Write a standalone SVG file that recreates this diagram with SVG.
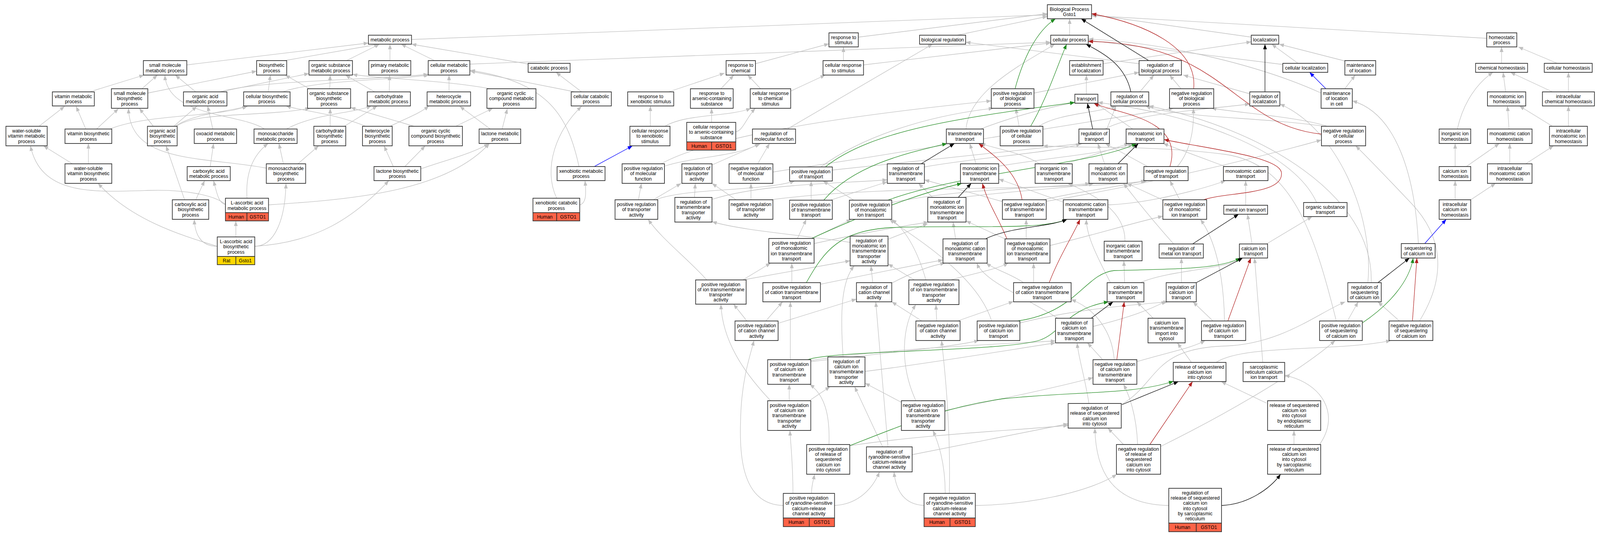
<svg xmlns="http://www.w3.org/2000/svg" width="4308" height="1371" viewBox="0 0 4308 1371">
<style>
.node rect.b{fill:#fff;stroke:#333;stroke-width:1.8}
.node rect.h{fill:#ff6347;stroke:#333;stroke-width:1.8}
.node rect.r{fill:#ffd700;stroke:#333;stroke-width:1.8}
text{font-family:"Liberation Sans",Arial,sans-serif;font-size:13px;text-anchor:middle;fill:#000}
.e path{fill:none;stroke-width:1.3}
.g path{stroke:#c0c0c0;marker-end:url(#ag)}
.p path{stroke:#228b22;marker-end:url(#ap)}
.n path{stroke:#b22222;marker-end:url(#an)}
.k path{stroke:#000;marker-end:url(#ak)}
.bl path{stroke:#0000ff;marker-end:url(#ab)}
</style>
<defs>
<marker id="ag" viewBox="0 0 13 10" refX="13" refY="5" markerWidth="13" markerHeight="10" markerUnits="userSpaceOnUse" orient="auto"><path d="M0,0L13,5L0,10z" fill="#c0c0c0"/></marker>
<marker id="ap" viewBox="0 0 13 10" refX="13" refY="5" markerWidth="13" markerHeight="10" markerUnits="userSpaceOnUse" orient="auto"><path d="M0,0L13,5L0,10z" fill="#228b22"/></marker>
<marker id="an" viewBox="0 0 13 10" refX="13" refY="5" markerWidth="13" markerHeight="10" markerUnits="userSpaceOnUse" orient="auto"><path d="M0,0L13,5L0,10z" fill="#b22222"/></marker>
<marker id="ak" viewBox="0 0 13 10" refX="13" refY="5" markerWidth="13" markerHeight="10" markerUnits="userSpaceOnUse" orient="auto"><path d="M0,0L13,5L0,10z" fill="#000"/></marker>
<marker id="ab" viewBox="0 0 13 10" refX="13" refY="5" markerWidth="13" markerHeight="10" markerUnits="userSpaceOnUse" orient="auto"><path d="M0,0L13,5L0,10z" fill="#0000ff"/></marker>
</defs>
<rect x="0" y="0" width="4308" height="1371" fill="#fff"/>
<g id="diagram" transform="scale(0.950789,1)">
<g id="connectors" class="e">
<g class="g">
<path d="M1108,101 L2820,38"/>
<path d="M503,166 L992,110"/>
<path d="M766,155 L1020,113"/>
<path d="M933,155 L1022,113"/>
<path d="M1050,155 L1050,113"/>
<path d="M1170,155 L1080,113"/>
<path d="M1424,164 L1108,113"/>
<path d="M1265,164 L2829,108"/>
<path d="M241,235 L388,192"/>
<path d="M382,227 L424,192"/>
<path d="M398,238 L691,182"/>
<path d="M527,235 L472,192"/>
<path d="M592,235 L832,188"/>
<path d="M592,235 C700,205 1000,205 1153,190"/>
<path d="M722,235 L728,192"/>
<path d="M761,235 C850,205 1050,205 1155,192"/>
<path d="M837,229 L768,192"/>
<path d="M888,227 L889,192"/>
<path d="M1009,235 L930,192"/>
<path d="M1048,235 L1049,192"/>
<path d="M1209,235 L1209,192"/>
<path d="M1320,227 C1200,205 1000,200 949,190"/>
<path d="M1227,323 L1327,277"/>
<path d="M1115,323 L944,275"/>
<path d="M1320,330 L1238,272"/>
<path d="M1352,330 L1366,278"/>
<path d="M1566,235 L1497,185"/>
<path d="M1548,235 L1266,182"/>
<path d="M1559,426 C1530,300 1480,210 1266,180"/>
<path d="M1499,507 C1460,430 1500,330 1566,272"/>
<path d="M1561,524 C1580,520 1578,490 1575,462"/>
<path d="M231,330 L205,272"/>
<path d="M260,330 L319,278"/>
<path d="M105,323 L174,272"/>
<path d="M468,323 L530,272"/>
<path d="M413,323 L375,277"/>
<path d="M472,323 C520,290 620,285 668,271"/>
<path d="M475,323 C530,285 700,300 835,277"/>
<path d="M296,330 C400,290 600,300 665,271"/>
<path d="M712,330 C650,290 450,300 444,192"/>
<path d="M771,330 C850,290 950,290 1000,271"/>
<path d="M927,323 L1016,271"/>
<path d="M889,323 L889,277"/>
<path d="M1050,323 C1100,300 1130,290 1155,271"/>
<path d="M985,323 C900,290 820,285 770,271"/>
<path d="M195,419 L117,373"/>
<path d="M238,419 L238,367"/>
<path d="M566,426 L575,367"/>
<path d="M763,419 L751,367"/>
<path d="M802,419 L858,373"/>
<path d="M717,430 C550,400 350,420 346,277"/>
<path d="M573,330 L559,271"/>
<path d="M1059,426 L1034,373"/>
<path d="M1133,432 C1200,410 1280,390 1316,367"/>
<path d="M1090,426 L1145,373"/>
<path d="M527,511 L551,462"/>
<path d="M497,511 L447,373"/>
<path d="M607,523 C590,520 585,500 575,462"/>
<path d="M665,507 C660,430 690,390 722,367"/>
<path d="M607,523 C580,500 500,484 400,487 C250,492 110,500 82,373"/>
<path d="M723,524 C950,510 1200,490 1318,367"/>
<path d="M635,606 L635,565"/>
<path d="M585,630 C540,630 525,600 523,561"/>
<path d="M585,630 C480,600 350,560 264,469"/>
<path d="M686,630 C740,630 768,560 770,469"/>
<path d="M686,630 C850,620 950,560 1047,462"/>
<path d="M2034,163 L2232,112"/>
<path d="M1800,235 L1951,187"/>
<path d="M1941,227 L1976,192"/>
<path d="M2048,227 L2013,192"/>
<path d="M2129,233 L2222,192"/>
<path d="M1751,323 L1751,271"/>
<path d="M1790,323 C1850,290 1960,300 2022,277"/>
<path d="M1916,313 L1916,277"/>
<path d="M1981,337 C2000,335 2010,300 2034,277"/>
<path d="M2271,155 L2271,120"/>
<path d="M2325,166 L2829,110"/>
<path d="M2311,95 L2820,35"/>
<path d="M2577,90 L2820,42"/>
<path d="M2880,90 L2880,48"/>
<path d="M3369,95 L2939,37"/>
<path d="M4003,98 L2939,40"/>
<path d="M3067,163 L2600,108"/>
<path d="M2970,163 L3369,107"/>
<path d="M2925,241 L2925,192"/>
<path d="M3069,235 L3107,192"/>
<path d="M2784,238 L3067,185"/>
<path d="M3180,227 L3149,192"/>
<path d="M2744,323 L2735,277"/>
<path d="M2797,323 C2850,290 2950,290 3005,271"/>
<path d="M3574,323 C3500,300 3350,290 3262,277"/>
<path d="M3565,323 C3400,300 3150,300 3085,271"/>
<path d="M3365,240 L3186,192"/>
<path d="M3495,162 L3424,113"/>
<path d="M3454,165 L2930,103"/>
<path d="M3621,156 L3444,113"/>
<path d="M3621,227 L3649,192"/>
<path d="M3557,238 C3400,170 3150,110 2931,100"/>
<path d="M4043,162 L4043,120"/>
<path d="M4193,162 L4088,120"/>
<path d="M4054,235 L4047,185"/>
<path d="M4180,235 L4067,185"/>
<path d="M4223,235 L4223,185"/>
<path d="M3924,330 C3940,260 3980,210 4020,185"/>
<path d="M4063,330 L4059,271"/>
<path d="M4180,323 L4091,271"/>
<path d="M4223,323 L4223,271"/>
<path d="M3918,426 L3918,367"/>
<path d="M3948,426 L4037,367"/>
<path d="M4065,419 L4065,367"/>
<path d="M4108,419 L4183,373"/>
<path d="M3918,511 L3918,462"/>
<path d="M3960,511 L4027,469"/>
<path d="M3819,623 C3810,450 3760,290 3641,258"/>
<path d="M2120,330 L2511,113"/>
<path d="M1789,425 C1870,400 1990,400 2045,367"/>
<path d="M1780,419 C1950,330 2450,280 2669,258"/>
<path d="M1917,422 L2048,367"/>
<path d="M2040,419 L2072,367"/>
<path d="M2081,440 C2500,380 3000,300 3160,277"/>
<path d="M1719,511 L1727,469"/>
<path d="M1759,511 L1834,469"/>
<path d="M1765,511 C1850,480 2050,490 2140,463"/>
<path d="M1870,505 L1872,469"/>
<path d="M1917,510 C2050,470 2250,470 2389,460"/>
<path d="M1982,511 L1917,469"/>
<path d="M2022,511 L2022,469"/>
<path d="M2075,511 C2400,470 2900,490 3090,462"/>
<path d="M2241,435 L2915,367"/>
<path d="M2210,427 C2350,330 2550,290 2675,277"/>
<path d="M2489,427 C2650,400 2850,390 2910,367"/>
<path d="M2236,512 L2389,465"/>
<path d="M2184,512 L2184,463"/>
<path d="M2401,518 C2600,480 2850,480 2935,469"/>
<path d="M2299,512 L2216,463"/>
<path d="M2511,505 L2473,469"/>
<path d="M2590,505 C2700,490 2900,480 2945,469"/>
<path d="M2628,419 L2611,367"/>
<path d="M2689,425 C2850,400 3000,390 3050,367"/>
<path d="M2800,419 C2750,390 2680,380 2640,367"/>
<path d="M2870,419 L3040,367"/>
<path d="M2975,330 C3050,290 3250,280 3365,266"/>
<path d="M2980,330 L3005,271"/>
<path d="M3050,330 L2950,264"/>
<path d="M3302,427 L3132,367"/>
<path d="M3354,525 L3354,462"/>
<path d="M3371,624 L3359,548"/>
<path d="M3410,624 L3533,554"/>
<path d="M3545,518 C3480,380 3200,290 2956,262"/>
<path d="M2863,517 L2689,458"/>
<path d="M2983,524 C3100,520 3250,480 3300,462"/>
<path d="M2573,611 L2566,568"/>
<path d="M2708,612 L2601,565"/>
<path d="M2763,611 L2763,561"/>
<path d="M2827,628 C2950,600 3050,570 3131,553"/>
<path d="M2704,517 L2489,460"/>
<path d="M2810,511 C2900,490 3000,480 3085,462"/>
<path d="M2817,515 C3100,470 3400,400 3558,358"/>
<path d="M2974,419 L2956,367"/>
<path d="M3092,427 L2976,367"/>
<path d="M3170,426 C3210,380 3215,320 3213,277"/>
<path d="M3132,512 L3034,469"/>
<path d="M3177,512 L3150,462"/>
<path d="M3160,624 C3100,560 3050,500 3025,469"/>
<path d="M3029,617 C3030,540 2950,500 2875,469"/>
<path d="M3028,723 L3026,667"/>
<path d="M3070,723 C3150,690 3300,690 3345,660"/>
<path d="M2990,723 C2950,650 2925,600 2925,561"/>
<path d="M3105,814 L3061,772"/>
<path d="M3181,723 L3181,660"/>
<path d="M3400,927 L3378,660"/>
<path d="M3208,927 L3170,877"/>
<path d="M3274,927 C3350,880 3600,900 3745,871"/>
<path d="M3410,1031 L3288,976"/>
<path d="M3484,1137 L3484,1101"/>
<path d="M3553,1137 C3610,1060 3560,980 3459,960"/>
<path d="M3147,1293 C2990,1290 2950,1200 2948,1095"/>
<path d="M2932,1032 C2920,960 2905,920 2900,877"/>
<path d="M3019,1035 C3120,980 3100,890 3300,885 C3450,880 3550,800 3622,772"/>
<path d="M2288,1140 C2500,1110 2750,1100 2876,1088"/>
<path d="M2232,1137 C2235,1060 2220,1010 2180,983"/>
<path d="M2377,1144 L2301,989"/>
<path d="M2391,1144 L2358,772"/>
<path d="M2456,1163 L2876,1084"/>
<path d="M3025,1137 L2983,1095"/>
<path d="M3063,1137 C3060,1060 3040,1010 3025,983"/>
<path d="M3125,1142 C3300,1060 3500,950 3595,871"/>
<path d="M2185,1262 C2185,1240 2190,1230 2193,1213"/>
<path d="M2135,1262 C2135,1180 2128,1130 2127,1101"/>
<path d="M2247,1293 C2310,1290 2350,1250 2368,1207"/>
<path d="M2109,1293 C1990,1290 1990,1150 1995,1050 C2000,960 2020,910 2030,871"/>
<path d="M2488,1293 C2430,1290 2412,1250 2407,1207"/>
<path d="M2626,1293 C2800,1290 2950,1250 3007,1213"/>
<path d="M2556,1262 C2560,1100 2545,950 2535,871"/>
<path d="M2545,1262 C2545,1180 2525,1130 2512,1101"/>
<path d="M2125,1025 L2125,983"/>
<path d="M2179,1025 L2235,989"/>
<path d="M2075,1025 C2000,950 1945,870 1941,778"/>
<path d="M2427,1029 L2329,980"/>
<path d="M2544,1050 C2700,1020 2850,990 2943,966"/>
<path d="M2466,1025 C2420,930 2430,830 2466,779"/>
<path d="M2183,922 C2400,890 2700,880 2842,872"/>
<path d="M2128,920 L2128,772"/>
<path d="M2183,925 C2400,900 2550,890 2636,871"/>
<path d="M2329,950 C2500,930 2750,890 2842,877"/>
<path d="M2270,913 C2262,800 2265,720 2300,680"/>
<path d="M2969,920 L2928,877"/>
<path d="M3000,920 C2995,850 2950,790 2884,766"/>
<path d="M3061,925 C3150,900 3210,890 3245,871"/>
<path d="M2943,835 C3050,810 3100,790 3140,770"/>
<path d="M2848,814 C2760,760 2650,720 2630,673"/>
<path d="M3266,821 L3212,772"/>
<path d="M3297,821 C3295,700 3270,610 3232,561"/>
<path d="M2746,826 C2900,790 3050,780 3145,772"/>
<path d="M2670,821 C2630,700 2450,600 2395,561"/>
<path d="M2209,727 C2350,700 2450,680 2539,665"/>
<path d="M2132,723 L2132,673"/>
<path d="M2000,716 L2289,667"/>
<path d="M2000,716 L2075,673"/>
<path d="M1903,716 C1850,660 1780,610 1745,561"/>
<path d="M2350,723 L2345,680"/>
<path d="M2399,725 C2450,700 2500,680 2545,673"/>
<path d="M2462,716 L2391,675"/>
<path d="M2560,716 C2620,700 2680,690 2715,673"/>
<path d="M2493,716 C2470,640 2440,590 2401,561"/>
<path d="M2095,827 L2306,765"/>
<path d="M2011,821 L1975,778"/>
<path d="M2062,821 L2107,772"/>
<path d="M2482,821 L2401,772"/>
<path d="M2522,821 L2520,779"/>
<path d="M2578,821 L2729,771"/>
<path d="M2756,723 C2720,700 2680,690 2655,673"/>
<path d="M2783,723 L2783,673"/>
<path d="M2289,620 C2150,600 2000,590 1917,567"/>
<path d="M2391,612 L2498,572"/>
<path d="M2192,623 C2300,600 2420,580 2500,568"/>
<path d="M2147,610 L2171,561"/>
<path d="M2180,613 L2292,561"/>
<path d="M3683,723 C3700,550 3600,330 3446,266"/>
<path d="M3692,723 C3700,500 3400,330 3093,271"/>
<path d="M3628,821 L3657,772"/>
<path d="M3598,821 C3540,600 3480,420 3300,395 C3100,370 2900,380 2808,373"/>
<path d="M3768,821 L3710,772"/>
<path d="M3822,821 C3900,700 3880,600 3800,520 C3720,440 3680,400 3650,373"/>
<path d="M2640,330 C2750,290 2850,270 2894,262"/>
<path d="M2601,330 C2610,230 2760,160 2840,113"/>
</g>
<g class="p">
<path d="M2733,227 C2755,150 2790,80 2842,48"/>
<path d="M2775,323 C2820,250 2850,160 2872,113"/>
<path d="M2222,427 C2350,330 2600,300 2894,262"/>
<path d="M2218,512 C2300,420 2450,390 2550,367"/>
<path d="M2390,512 C2600,440 2950,420 3060,367"/>
<path d="M2185,610 C2300,560 2450,500 2590,469"/>
<path d="M2171,723 C2220,640 2260,590 2400,582 C2600,575 2800,590 2873,561"/>
<path d="M2174,920 C2250,895 2700,900 2800,870 C2860,850 2870,790 2985,772"/>
<path d="M2739,821 C2900,800 2920,700 3000,692 C3150,688 3280,690 3340,660"/>
<path d="M2288,1140 C2450,1080 2550,1040 2700,1020 C2900,1000 3050,1010 3160,975"/>
<path d="M3668,826 C3740,780 3795,720 3805,660"/>
</g>
<g class="n">
<path d="M3214,227 C3225,120 3080,60 2939,35"/>
<path d="M3558,343 C3320,320 3300,110 2930,106"/>
<path d="M3150,426 C3190,300 3000,290 2945,264"/>
<path d="M2752,511 C2740,440 2680,400 2635,367"/>
<path d="M3237,512 C3300,490 3460,500 3450,440 C3440,400 3250,380 3134,357"/>
<path d="M2711,611 C2690,560 2660,520 2645,469"/>
<path d="M2825,723 C2850,660 2890,600 2908,561"/>
<path d="M3007,920 L3027,772"/>
<path d="M3306,821 L3368,660"/>
<path d="M3096,1137 L3211,976"/>
<path d="M3803,821 L3815,660"/>
</g>
<g class="k">
<path d="M3093,155 L2911,48"/>
<path d="M3045,235 C3030,170 2980,140 2924,113"/>
<path d="M3406,235 L3406,113"/>
<path d="M2942,330 L2928,264"/>
<path d="M2480,419 L2570,367"/>
<path d="M3009,420 L3065,367"/>
<path d="M2580,505 L2615,469"/>
<path d="M2653,611 C2720,580 2830,580 2873,561"/>
<path d="M3211,624 L3335,548"/>
<path d="M3221,723 L3346,660"/>
<path d="M2938,814 L2997,772"/>
<path d="M3021,1035 L3173,976"/>
<path d="M3289,1293 C3360,1290 3420,1250 3448,1213"/>
<path d="M3710,723 L3795,660"/>
</g>
<g class="bl">
<path d="M1600,426 L1703,373"/>
<path d="M3570,227 L3526,185"/>
<path d="M3836,623 L3894,561"/>
</g>
</g>
<g id="nodes">
<g id="bp" class="node"><rect class="b" x="2820" y="12" width="119" height="36"/><text x="2879.5" y="27.85"><tspan x="2879.5">Biological Process</tspan><tspan x="2879.5" dy="13.3">Gsto1</tspan></text></g>
<g id="mp" class="node"><rect class="b" x="992" y="90" width="116" height="23"/><text x="1050" y="106">metabolic process</text></g>
<g id="rts" class="node"><rect class="b" x="2232" y="84" width="79" height="36"/><text x="2271.5" y="99.85"><tspan x="2271.5">response to</tspan><tspan x="2271.5" dy="13.3">stimulus</tspan></text></g>
<g id="breg" class="node"><rect class="b" x="2476" y="90" width="124" height="23"/><text x="2538" y="106">biological regulation</text></g>
<g id="cp" class="node"><rect class="b" x="2829" y="90" width="101" height="23"/><text x="2879.5" y="106">cellular process</text></g>
<g id="loc" class="node"><rect class="b" x="3369" y="90" width="74" height="23"/><text x="3406" y="106">localization</text></g>
<g id="hp" class="node"><rect class="b" x="4003" y="84" width="81" height="36"/><text x="4043.5" y="99.85"><tspan x="4043.5">homeostatic</tspan><tspan x="4043.5" dy="13.3">process</tspan></text></g>
<g id="smmp" class="node"><rect class="b" x="386" y="155" width="117" height="37"/><text x="444.5" y="171.35"><tspan x="444.5">small molecule</tspan><tspan x="444.5" dy="13.3">metabolic process</tspan></text></g>
<g id="bsp" class="node"><rect class="b" x="691" y="155" width="81" height="37"/><text x="731.5" y="171.35"><tspan x="731.5">biosynthetic</tspan><tspan x="731.5" dy="13.3">process</tspan></text></g>
<g id="osmp" class="node"><rect class="b" x="832" y="155" width="117" height="37"/><text x="890.5" y="171.35"><tspan x="890.5">organic substance</tspan><tspan x="890.5" dy="13.3">metabolic process</tspan></text></g>
<g id="pmp" class="node"><rect class="b" x="993" y="155" width="113" height="37"/><text x="1049.5" y="171.35"><tspan x="1049.5">primary metabolic</tspan><tspan x="1049.5" dy="13.3">process</tspan></text></g>
<g id="cmp" class="node"><rect class="b" x="1153" y="155" width="112" height="37"/><text x="1209" y="171.35"><tspan x="1209">cellular metabolic</tspan><tspan x="1209" dy="13.3">process</tspan></text></g>
<g id="catp" class="node"><rect class="b" x="1422" y="162" width="113" height="23"/><text x="1478.5" y="178">catabolic process</text></g>
<g id="rtc" class="node"><rect class="b" x="1955" y="155" width="79" height="37"/><text x="1994.5" y="171.35"><tspan x="1994.5">response to</tspan><tspan x="1994.5" dy="13.3">chemical</tspan></text></g>
<g id="crs" class="node"><rect class="b" x="2216" y="155" width="109" height="37"/><text x="2270.5" y="171.35"><tspan x="2270.5">cellular response</tspan><tspan x="2270.5" dy="13.3">to stimulus</tspan></text></g>
<g id="eol" class="node"><rect class="b" x="2880" y="155" width="90" height="37"/><text x="2925" y="171.35"><tspan x="2925">establishment</tspan><tspan x="2925" dy="13.3">of localization</tspan></text></g>
<g id="rbp" class="node"><rect class="b" x="3067" y="155" width="114" height="37"/><text x="3124" y="171.35"><tspan x="3124">regulation of</tspan><tspan x="3124" dy="13.3">biological process</tspan></text></g>
<g id="cloc" class="node"><rect class="b" x="3454" y="162" width="121" height="23"/><text x="3514.5" y="178">cellular localization</text></g>
<g id="mol" class="node"><rect class="b" x="3621" y="155" width="83" height="37"/><text x="3662.5" y="171.35"><tspan x="3662.5">maintenance</tspan><tspan x="3662.5" dy="13.3">of location</tspan></text></g>
<g id="chh" class="node"><rect class="b" x="3973" y="162" width="140" height="23"/><text x="4043" y="178">chemical homeostasis</text></g>
<g id="celh" class="node"><rect class="b" x="4158" y="162" width="129" height="23"/><text x="4222.5" y="178">cellular homeostasis</text></g>
<g id="vmp" class="node"><rect class="b" x="141" y="235" width="113" height="36"/><text x="197.5" y="250.85"><tspan x="197.5">vitamin metabolic</tspan><tspan x="197.5" dy="13.3">process</tspan></text></g>
<g id="smbp" class="node"><rect class="b" x="300" y="227" width="98" height="50"/><text x="349" y="243.2"><tspan x="349">small molecule</tspan><tspan x="349" dy="13.3">biosynthetic</tspan><tspan x="349" dy="13.3">process</tspan></text></g>
<g id="oamp" class="node"><rect class="b" x="494" y="235" width="117" height="36"/><text x="552.5" y="250.85"><tspan x="552.5">organic acid</tspan><tspan x="552.5" dy="13.3">metabolic process</tspan></text></g>
<g id="cbp" class="node"><rect class="b" x="656" y="235" width="125" height="36"/><text x="718.5" y="250.85"><tspan x="718.5">cellular biosynthetic</tspan><tspan x="718.5" dy="13.3">process</tspan></text></g>
<g id="osbp" class="node"><rect class="b" x="828" y="227" width="116" height="50"/><text x="886" y="243.2"><tspan x="886">organic substance</tspan><tspan x="886" dy="13.3">biosynthetic</tspan><tspan x="886" dy="13.3">process</tspan></text></g>
<g id="chmp" class="node"><rect class="b" x="989" y="235" width="116" height="36"/><text x="1047" y="250.85"><tspan x="1047">carbohydrate</tspan><tspan x="1047" dy="13.3">metabolic process</tspan></text></g>
<g id="hmp" class="node"><rect class="b" x="1150" y="235" width="117" height="36"/><text x="1208.5" y="250.85"><tspan x="1208.5">heterocycle</tspan><tspan x="1208.5" dy="13.3">metabolic process</tspan></text></g>
<g id="ocmp" class="node"><rect class="b" x="1311" y="227" width="132" height="50"/><text x="1377" y="243.2"><tspan x="1377">organic cyclic</tspan><tspan x="1377" dy="13.3">compound metabolic</tspan><tspan x="1377" dy="13.3">process</tspan></text></g>
<g id="ccp" class="node"><rect class="b" x="1538" y="235" width="108" height="36"/><text x="1592" y="250.85"><tspan x="1592">cellular catabolic</tspan><tspan x="1592" dy="13.3">process</tspan></text></g>
<g id="rxs" class="node"><rect class="b" x="1690" y="235" width="124" height="36"/><text x="1752" y="250.85"><tspan x="1752">response to</tspan><tspan x="1752" dy="13.3">xenobiotic stimulus</tspan></text></g>
<g id="ras" class="node"><rect class="b" x="1859" y="227" width="115" height="50"/><text x="1916.5" y="243.2"><tspan x="1916.5">response to</tspan><tspan x="1916.5" dy="13.3">arsenic-containing</tspan><tspan x="1916.5" dy="13.3">substance</tspan></text></g>
<g id="crcs" class="node"><rect class="b" x="2020" y="227" width="109" height="50"/><text x="2074.5" y="243.2"><tspan x="2074.5">cellular response</tspan><tspan x="2074.5" dy="13.3">to chemical</tspan><tspan x="2074.5" dy="13.3">stimulus</tspan></text></g>
<g id="pbp" class="node"><rect class="b" x="2669" y="227" width="115" height="50"/><text x="2726.5" y="243.2"><tspan x="2726.5">positive regulation</tspan><tspan x="2726.5" dy="13.3">of biological</tspan><tspan x="2726.5" dy="13.3">process</tspan></text></g>
<g id="tr" class="node"><rect class="b" x="2894" y="241" width="62" height="23"/><text x="2925" y="257">transport</text></g>
<g id="rcp" class="node"><rect class="b" x="2991" y="235" width="102" height="36"/><text x="3042" y="250.85"><tspan x="3042">regulation of</tspan><tspan x="3042" dy="13.3">cellular process</tspan></text></g>
<g id="nbp" class="node"><rect class="b" x="3149" y="227" width="119" height="50"/><text x="3208.5" y="243.2"><tspan x="3208.5">negative regulation</tspan><tspan x="3208.5" dy="13.3">of biological</tspan><tspan x="3208.5" dy="13.3">process</tspan></text></g>
<g id="rloc" class="node"><rect class="b" x="3365" y="235" width="81" height="36"/><text x="3405.5" y="250.85"><tspan x="3405.5">regulation of</tspan><tspan x="3405.5" dy="13.3">localization</tspan></text></g>
<g id="molc" class="node"><rect class="b" x="3557" y="227" width="84" height="50"/><text x="3599" y="243.2"><tspan x="3599">maintenance</tspan><tspan x="3599" dy="13.3">of location</tspan><tspan x="3599" dy="13.3">in cell</tspan></text></g>
<g id="mih" class="node"><rect class="b" x="4005" y="235" width="103" height="36"/><text x="4056.5" y="250.85"><tspan x="4056.5">monoatomic ion</tspan><tspan x="4056.5" dy="13.3">homeostasis</tspan></text></g>
<g id="ich" class="node"><rect class="b" x="4153" y="235" width="140" height="36"/><text x="4223" y="250.85"><tspan x="4223">intracellular</tspan><tspan x="4223" dy="13.3">chemical homeostasis</tspan></text></g>
<g id="wsvmp" class="node"><rect class="b" x="16" y="323" width="111" height="50"/><text x="71.5" y="339.2"><tspan x="71.5">water-soluble</tspan><tspan x="71.5" dy="13.3">vitamin metabolic</tspan><tspan x="71.5" dy="13.3">process</tspan></text></g>
<g id="vbp" class="node"><rect class="b" x="175" y="330" width="126" height="37"/><text x="238" y="346.35"><tspan x="238">vitamin biosynthetic</tspan><tspan x="238" dy="13.3">process</tspan></text></g>
<g id="oabp" class="node"><rect class="b" x="397" y="323" width="80" height="50"/><text x="437" y="339.2"><tspan x="437">organic acid</tspan><tspan x="437" dy="13.3">biosynthetic</tspan><tspan x="437" dy="13.3">process</tspan></text></g>
<g id="oxmp" class="node"><rect class="b" x="523" y="330" width="114" height="37"/><text x="580" y="346.35"><tspan x="580">oxoacid metabolic</tspan><tspan x="580" dy="13.3">process</tspan></text></g>
<g id="msmp" class="node"><rect class="b" x="684" y="330" width="116" height="37"/><text x="742" y="346.35"><tspan x="742">monosaccharide</tspan><tspan x="742" dy="13.3">metabolic process</tspan></text></g>
<g id="chbp" class="node"><rect class="b" x="845" y="323" width="86" height="50"/><text x="888" y="339.2"><tspan x="888">carbohydrate</tspan><tspan x="888" dy="13.3">biosynthetic</tspan><tspan x="888" dy="13.3">process</tspan></text></g>
<g id="hbp" class="node"><rect class="b" x="976" y="323" width="80" height="50"/><text x="1016" y="339.2"><tspan x="1016">heterocycle</tspan><tspan x="1016" dy="13.3">biosynthetic</tspan><tspan x="1016" dy="13.3">process</tspan></text></g>
<g id="occbp" class="node"><rect class="b" x="1101" y="323" width="144" height="50"/><text x="1173" y="339.2"><tspan x="1173">organic cyclic</tspan><tspan x="1173" dy="13.3">compound biosynthetic</tspan><tspan x="1173" dy="13.3">process</tspan></text></g>
<g id="lmp" class="node"><rect class="b" x="1290" y="330" width="112" height="37"/><text x="1346" y="346.35"><tspan x="1346">lactone metabolic</tspan><tspan x="1346" dy="13.3">process</tspan></text></g>
<g id="crxs" class="node"><rect class="b" x="1696" y="323" width="108" height="50"/><text x="1750" y="339.2"><tspan x="1750">cellular response</tspan><tspan x="1750" dy="13.3">to xenobiotic</tspan><tspan x="1750" dy="13.3">stimulus</tspan></text></g>
<g id="cras" class="node"><rect class="b" x="1849" y="313" width="132" height="50"/><text x="1915" y="329.2"><tspan x="1915">cellular response</tspan><tspan x="1915" dy="13.3">to arsenic-containing</tspan><tspan x="1915" dy="13.3">substance</tspan></text><rect class="h" x="1849" y="363" width="67" height="21"/><rect class="h" x="1916" y="363" width="65" height="21"/><text x="1882.5" y="378">Human</text><text x="1948.5" y="378">GSTO1</text></g>
<g id="rmf" class="node"><rect class="b" x="2026" y="330" width="116" height="37"/><text x="2084" y="346.35"><tspan x="2084">regulation of</tspan><tspan x="2084" dy="13.3">molecular function</tspan></text></g>
<g id="tt" class="node"><rect class="b" x="2548" y="330" width="100" height="37"/><text x="2598" y="346.35"><tspan x="2598">transmembrane</tspan><tspan x="2598" dy="13.3">transport</tspan></text></g>
<g id="pcp" class="node"><rect class="b" x="2693" y="323" width="115" height="50"/><text x="2750.5" y="339.2"><tspan x="2750.5">positive regulation</tspan><tspan x="2750.5" dy="13.3">of cellular</tspan><tspan x="2750.5" dy="13.3">process</tspan></text></g>
<g id="rt" class="node"><rect class="b" x="2905" y="330" width="82" height="37"/><text x="2946" y="346.35"><tspan x="2946">regulation of</tspan><tspan x="2946" dy="13.3">transport</tspan></text></g>
<g id="mit" class="node"><rect class="b" x="3032" y="330" width="102" height="37"/><text x="3083" y="346.35"><tspan x="3083">monoatomic ion</tspan><tspan x="3083" dy="13.3">transport</tspan></text></g>
<g id="ncp" class="node"><rect class="b" x="3558" y="323" width="119" height="50"/><text x="3617.5" y="339.2"><tspan x="3617.5">negative regulation</tspan><tspan x="3617.5" dy="13.3">of cellular</tspan><tspan x="3617.5" dy="13.3">process</tspan></text></g>
<g id="iih" class="node"><rect class="b" x="3875" y="330" width="85" height="37"/><text x="3917.5" y="346.35"><tspan x="3917.5">inorganic ion</tspan><tspan x="3917.5" dy="13.3">homeostasis</tspan></text></g>
<g id="mch" class="node"><rect class="b" x="4005" y="330" width="120" height="37"/><text x="4065" y="346.35"><tspan x="4065">monoatomic cation</tspan><tspan x="4065" dy="13.3">homeostasis</tspan></text></g>
<g id="imih" class="node"><rect class="b" x="4172" y="323" width="102" height="50"/><text x="4223" y="339.2"><tspan x="4223">intracellular</tspan><tspan x="4223" dy="13.3">monoatomic ion</tspan><tspan x="4223" dy="13.3">homeostasis</tspan></text></g>
<g id="wsvbp" class="node"><rect class="b" x="175" y="419" width="126" height="50"/><text x="238" y="435.2"><tspan x="238">water-soluble</tspan><tspan x="238" dy="13.3">vitamin biosynthetic</tspan><tspan x="238" dy="13.3">process</tspan></text></g>
<g id="camp" class="node"><rect class="b" x="504" y="426" width="116" height="36"/><text x="562" y="441.85"><tspan x="562">carboxylic acid</tspan><tspan x="562" dy="13.3">metabolic process</tspan></text></g>
<g id="msbp" class="node"><rect class="b" x="717" y="419" width="106" height="50"/><text x="770" y="435.2"><tspan x="770">monosaccharide</tspan><tspan x="770" dy="13.3">biosynthetic</tspan><tspan x="770" dy="13.3">process</tspan></text></g>
<g id="lbp" class="node"><rect class="b" x="1007" y="426" width="126" height="36"/><text x="1070" y="441.85"><tspan x="1070">lactone biosynthetic</tspan><tspan x="1070" dy="13.3">process</tspan></text></g>
<g id="xmp" class="node"><rect class="b" x="1500" y="426" width="129" height="36"/><text x="1564.5" y="441.85"><tspan x="1564.5">xenobiotic metabolic</tspan><tspan x="1564.5" dy="13.3">process</tspan></text></g>
<g id="pmf" class="node"><rect class="b" x="1675" y="419" width="114" height="50"/><text x="1732" y="435.2"><tspan x="1732">positive regulation</tspan><tspan x="1732" dy="13.3">of molecular</tspan><tspan x="1732" dy="13.3">function</tspan></text></g>
<g id="rta" class="node"><rect class="b" x="1836" y="419" width="81" height="50"/><text x="1876.5" y="435.2"><tspan x="1876.5">regulation of</tspan><tspan x="1876.5" dy="13.3">transporter</tspan><tspan x="1876.5" dy="13.3">activity</tspan></text></g>
<g id="nmf" class="node"><rect class="b" x="1963" y="419" width="118" height="50"/><text x="2022" y="435.2"><tspan x="2022">negative regulation</tspan><tspan x="2022" dy="13.3">of molecular</tspan><tspan x="2022" dy="13.3">function</tspan></text></g>
<g id="prt" class="node"><rect class="b" x="2126" y="427" width="115" height="36"/><text x="2183.5" y="442.85"><tspan x="2183.5">positive regulation</tspan><tspan x="2183.5" dy="13.3">of transport</tspan></text></g>
<g id="rtt" class="node"><rect class="b" x="2389" y="419" width="100" height="50"/><text x="2439" y="435.2"><tspan x="2439">regulation of</tspan><tspan x="2439" dy="13.3">transmembrane</tspan><tspan x="2439" dy="13.3">transport</tspan></text></g>
<g id="mitt" class="node"><rect class="b" x="2586" y="419" width="103" height="50"/><text x="2637.5" y="435.2"><tspan x="2637.5">monoatomic ion</tspan><tspan x="2637.5" dy="13.3">transmembrane</tspan><tspan x="2637.5" dy="13.3">transport</tspan></text></g>
<g id="iitt" class="node"><rect class="b" x="2787" y="419" width="100" height="50"/><text x="2837" y="435.2"><tspan x="2837">inorganic ion</tspan><tspan x="2837" dy="13.3">transmembrane</tspan><tspan x="2837" dy="13.3">transport</tspan></text></g>
<g id="rmit" class="node"><rect class="b" x="2932" y="419" width="103" height="50"/><text x="2983.5" y="435.2"><tspan x="2983.5">regulation of</tspan><tspan x="2983.5" dy="13.3">monoatomic ion</tspan><tspan x="2983.5" dy="13.3">transport</tspan></text></g>
<g id="nrt" class="node"><rect class="b" x="3080" y="426" width="119" height="36"/><text x="3139.5" y="441.85"><tspan x="3139.5">negative regulation</tspan><tspan x="3139.5" dy="13.3">of transport</tspan></text></g>
<g id="mct" class="node"><rect class="b" x="3294" y="426" width="120" height="36"/><text x="3354" y="441.85"><tspan x="3354">monoatomic cation</tspan><tspan x="3354" dy="13.3">transport</tspan></text></g>
<g id="cih" class="node"><rect class="b" x="3875" y="426" width="85" height="36"/><text x="3917.5" y="441.85"><tspan x="3917.5">calcium ion</tspan><tspan x="3917.5" dy="13.3">homeostasis</tspan></text></g>
<g id="imch" class="node"><rect class="b" x="4005" y="419" width="120" height="50"/><text x="4065" y="435.2"><tspan x="4065">intracellular</tspan><tspan x="4065" dy="13.3">monoatomic cation</tspan><tspan x="4065" dy="13.3">homeostasis</tspan></text></g>
<g id="cabp" class="node"><rect class="b" x="464" y="511" width="98" height="50"/><text x="513" y="527.2"><tspan x="513">carboxylic acid</tspan><tspan x="513" dy="13.3">biosynthetic</tspan><tspan x="513" dy="13.3">process</tspan></text></g>
<g id="lamp" class="node"><rect class="b" x="607" y="507" width="116" height="37"/><text x="665" y="523.35"><tspan x="665">L-ascorbic acid</tspan><tspan x="665" dy="13.3">metabolic process</tspan></text><rect class="h" x="607" y="544" width="58" height="21"/><rect class="h" x="665" y="544" width="58" height="21"/><text x="636" y="559">Human</text><text x="694" y="559">GSTO1</text></g>
<g id="xcp" class="node"><rect class="b" x="1435" y="507" width="126" height="37"/><text x="1498" y="523.35"><tspan x="1498">xenobiotic catabolic</tspan><tspan x="1498" dy="13.3">process</tspan></text><rect class="h" x="1435" y="544" width="64" height="21"/><rect class="h" x="1499" y="544" width="62" height="21"/><text x="1467" y="559">Human</text><text x="1530" y="559">GSTO1</text></g>
<g id="pta" class="node"><rect class="b" x="1656" y="511" width="115" height="50"/><text x="1713.5" y="527.2"><tspan x="1713.5">positive regulation</tspan><tspan x="1713.5" dy="13.3">of transporter</tspan><tspan x="1713.5" dy="13.3">activity</tspan></text></g>
<g id="rtta" class="node"><rect class="b" x="1817" y="505" width="100" height="63"/><text x="1867" y="521.05"><tspan x="1867">regulation of</tspan><tspan x="1867" dy="13.3">transmembrane</tspan><tspan x="1867" dy="13.3">transporter</tspan><tspan x="1867" dy="13.3">activity</tspan></text></g>
<g id="nta" class="node"><rect class="b" x="1963" y="511" width="118" height="50"/><text x="2022" y="527.2"><tspan x="2022">negative regulation</tspan><tspan x="2022" dy="13.3">of transporter</tspan><tspan x="2022" dy="13.3">activity</tspan></text></g>
<g id="ptt" class="node"><rect class="b" x="2126" y="512" width="115" height="49"/><text x="2183.5" y="527.7"><tspan x="2183.5">positive regulation</tspan><tspan x="2183.5" dy="13.3">of transmembrane</tspan><tspan x="2183.5" dy="13.3">transport</tspan></text></g>
<g id="pmit" class="node"><rect class="b" x="2287" y="512" width="114" height="49"/><text x="2344" y="527.7"><tspan x="2344">positive regulation</tspan><tspan x="2344" dy="13.3">of monoatomic</tspan><tspan x="2344" dy="13.3">ion transport</tspan></text></g>
<g id="rmitt" class="node"><rect class="b" x="2498" y="505" width="103" height="63"/><text x="2549.5" y="521.05"><tspan x="2549.5">regulation of</tspan><tspan x="2549.5" dy="13.3">monoatomic ion</tspan><tspan x="2549.5" dy="13.3">transmembrane</tspan><tspan x="2549.5" dy="13.3">transport</tspan></text></g>
<g id="ntt" class="node"><rect class="b" x="2699" y="511" width="118" height="50"/><text x="2758" y="527.2"><tspan x="2758">negative regulation</tspan><tspan x="2758" dy="13.3">of transmembrane</tspan><tspan x="2758" dy="13.3">transport</tspan></text></g>
<g id="mctt" class="node"><rect class="b" x="2863" y="511" width="120" height="50"/><text x="2923" y="527.2"><tspan x="2923">monoatomic cation</tspan><tspan x="2923" dy="13.3">transmembrane</tspan><tspan x="2923" dy="13.3">transport</tspan></text></g>
<g id="nmit" class="node"><rect class="b" x="3131" y="511" width="118" height="50"/><text x="3190" y="527.2"><tspan x="3190">negative regulation</tspan><tspan x="3190" dy="13.3">of monoatomic</tspan><tspan x="3190" dy="13.3">ion transport</tspan></text></g>
<g id="mett" class="node"><rect class="b" x="3295" y="525" width="118" height="23"/><text x="3354" y="541">metal ion transport</text></g>
<g id="ost" class="node"><rect class="b" x="3510" y="518" width="117" height="36"/><text x="3568.5" y="533.85"><tspan x="3568.5">organic substance</tspan><tspan x="3568.5" dy="13.3">transport</tspan></text></g>
<g id="icih" class="node"><rect class="b" x="3875" y="511" width="85" height="50"/><text x="3917.5" y="527.2"><tspan x="3917.5">intracellular</tspan><tspan x="3917.5" dy="13.3">calcium ion</tspan><tspan x="3917.5" dy="13.3">homeostasis</tspan></text></g>
<g id="labp" class="node"><rect class="b" x="585" y="606" width="101" height="50"/><text x="635.5" y="622.2"><tspan x="635.5">L-ascorbic acid</tspan><tspan x="635.5" dy="13.3">biosynthetic</tspan><tspan x="635.5" dy="13.3">process</tspan></text><rect class="r" x="585" y="656" width="50" height="21"/><rect class="r" x="635" y="656" width="51" height="21"/><text x="610" y="671">Rat</text><text x="660.5" y="671">Gsto1</text></g>
<g id="pmitt" class="node"><rect class="b" x="2070" y="610" width="122" height="63"/><text x="2131" y="626.05"><tspan x="2131">positive regulation</tspan><tspan x="2131" dy="13.3">of monoatomic</tspan><tspan x="2131" dy="13.3">ion transmembrane</tspan><tspan x="2131" dy="13.3">transport</tspan></text></g>
<g id="rmitta" class="node"><rect class="b" x="2289" y="604" width="102" height="76"/><text x="2340" y="619.9"><tspan x="2340">regulation of</tspan><tspan x="2340" dy="13.3">monoatomic ion</tspan><tspan x="2340" dy="13.3">transmembrane</tspan><tspan x="2340" dy="13.3">transporter</tspan><tspan x="2340" dy="13.3">activity</tspan></text></g>
<g id="rmctt" class="node"><rect class="b" x="2539" y="611" width="119" height="62"/><text x="2598.5" y="626.55"><tspan x="2598.5">regulation of</tspan><tspan x="2598.5" dy="13.3">monoatomic cation</tspan><tspan x="2598.5" dy="13.3">transmembrane</tspan><tspan x="2598.5" dy="13.3">transport</tspan></text></g>
<g id="nmitt" class="node"><rect class="b" x="2706" y="611" width="121" height="62"/><text x="2766.5" y="626.55"><tspan x="2766.5">negative regulation</tspan><tspan x="2766.5" dy="13.3">of monoatomic</tspan><tspan x="2766.5" dy="13.3">ion transmembrane</tspan><tspan x="2766.5" dy="13.3">transport</tspan></text></g>
<g id="ictt" class="node"><rect class="b" x="2973" y="617" width="102" height="50"/><text x="3024" y="633.2"><tspan x="3024">inorganic cation</tspan><tspan x="3024" dy="13.3">transmembrane</tspan><tspan x="3024" dy="13.3">transport</tspan></text></g>
<g id="rmet" class="node"><rect class="b" x="3121" y="624" width="119" height="36"/><text x="3180.5" y="639.85"><tspan x="3180.5">regulation of</tspan><tspan x="3180.5" dy="13.3">metal ion transport</tspan></text></g>
<g id="cit" class="node"><rect class="b" x="3337" y="624" width="76" height="36"/><text x="3375" y="639.85"><tspan x="3375">calcium ion</tspan><tspan x="3375" dy="13.3">transport</tspan></text></g>
<g id="seq" class="node"><rect class="b" x="3773" y="623" width="91" height="37"/><text x="3818.5" y="639.35"><tspan x="3818.5">sequestering</tspan><tspan x="3818.5" dy="13.3">of calcium ion</tspan></text></g>
<g id="pitta" class="node"><rect class="b" x="1873" y="716" width="136" height="62"/><text x="1941" y="731.55"><tspan x="1941">positive regulation</tspan><tspan x="1941" dy="13.3">of ion transmembrane</tspan><tspan x="1941" dy="13.3">transporter</tspan><tspan x="1941" dy="13.3">activity</tspan></text></g>
<g id="pctt" class="node"><rect class="b" x="2054" y="723" width="155" height="49"/><text x="2131.5" y="738.7"><tspan x="2131.5">positive regulation</tspan><tspan x="2131.5" dy="13.3">of cation transmembrane</tspan><tspan x="2131.5" dy="13.3">transport</tspan></text></g>
<g id="rcca" class="node"><rect class="b" x="2306" y="723" width="95" height="49"/><text x="2353.5" y="738.7"><tspan x="2353.5">regulation of</tspan><tspan x="2353.5" dy="13.3">cation channel</tspan><tspan x="2353.5" dy="13.3">activity</tspan></text></g>
<g id="nitta" class="node"><rect class="b" x="2447" y="716" width="135" height="63"/><text x="2514.5" y="732.05"><tspan x="2514.5">negative regulation</tspan><tspan x="2514.5" dy="13.3">of ion transmembrane</tspan><tspan x="2514.5" dy="13.3">transporter</tspan><tspan x="2514.5" dy="13.3">activity</tspan></text></g>
<g id="nctt" class="node"><rect class="b" x="2729" y="723" width="155" height="49"/><text x="2806.5" y="738.7"><tspan x="2806.5">negative regulation</tspan><tspan x="2806.5" dy="13.3">of cation transmembrane</tspan><tspan x="2806.5" dy="13.3">transport</tspan></text></g>
<g id="citt" class="node"><rect class="b" x="2981" y="723" width="99" height="49"/><text x="3030.5" y="738.7"><tspan x="3030.5">calcium ion</tspan><tspan x="3030.5" dy="13.3">transmembrane</tspan><tspan x="3030.5" dy="13.3">transport</tspan></text></g>
<g id="rcit" class="node"><rect class="b" x="3140" y="723" width="81" height="49"/><text x="3180.5" y="738.7"><tspan x="3180.5">regulation of</tspan><tspan x="3180.5" dy="13.3">calcium ion</tspan><tspan x="3180.5" dy="13.3">transport</tspan></text></g>
<g id="rseq" class="node"><rect class="b" x="3629" y="723" width="90" height="49"/><text x="3674" y="738.7"><tspan x="3674">regulation of</tspan><tspan x="3674" dy="13.3">sequestering</tspan><tspan x="3674" dy="13.3">of calcium ion</tspan></text></g>
<g id="pcca" class="node"><rect class="b" x="1979" y="821" width="116" height="50"/><text x="2037" y="837.2"><tspan x="2037">positive regulation</tspan><tspan x="2037" dy="13.3">of cation channel</tspan><tspan x="2037" dy="13.3">activity</tspan></text></g>
<g id="ncca" class="node"><rect class="b" x="2466" y="821" width="119" height="50"/><text x="2525.5" y="837.2"><tspan x="2525.5">negative regulation</tspan><tspan x="2525.5" dy="13.3">of cation channel</tspan><tspan x="2525.5" dy="13.3">activity</tspan></text></g>
<g id="pcit" class="node"><rect class="b" x="2631" y="821" width="115" height="50"/><text x="2688.5" y="837.2"><tspan x="2688.5">positive regulation</tspan><tspan x="2688.5" dy="13.3">of calcium ion</tspan><tspan x="2688.5" dy="13.3">transport</tspan></text></g>
<g id="rcitt" class="node"><rect class="b" x="2842" y="814" width="101" height="63"/><text x="2892.5" y="830.05"><tspan x="2892.5">regulation of</tspan><tspan x="2892.5" dy="13.3">calcium ion</tspan><tspan x="2892.5" dy="13.3">transmembrane</tspan><tspan x="2892.5" dy="13.3">transport</tspan></text></g>
<g id="citi" class="node"><rect class="b" x="3091" y="814" width="100" height="63"/><text x="3141" y="830.05"><tspan x="3141">calcium ion</tspan><tspan x="3141" dy="13.3">transmembrane</tspan><tspan x="3141" dy="13.3">import into</tspan><tspan x="3141" dy="13.3">cytosol</tspan></text></g>
<g id="ncit" class="node"><rect class="b" x="3235" y="821" width="119" height="50"/><text x="3294.5" y="837.2"><tspan x="3294.5">negative regulation</tspan><tspan x="3294.5" dy="13.3">of calcium ion</tspan><tspan x="3294.5" dy="13.3">transport</tspan></text></g>
<g id="pseq" class="node"><rect class="b" x="3553" y="821" width="115" height="50"/><text x="3610.5" y="837.2"><tspan x="3610.5">positive regulation</tspan><tspan x="3610.5" dy="13.3">of sequestering</tspan><tspan x="3610.5" dy="13.3">of calcium ion</tspan></text></g>
<g id="nseq" class="node"><rect class="b" x="3740" y="821" width="118" height="50"/><text x="3799" y="837.2"><tspan x="3799">negative regulation</tspan><tspan x="3799" dy="13.3">of sequestering</tspan><tspan x="3799" dy="13.3">of calcium ion</tspan></text></g>
<g id="pcitt" class="node"><rect class="b" x="2067" y="920" width="116" height="63"/><text x="2125" y="936.05"><tspan x="2125">positive regulation</tspan><tspan x="2125" dy="13.3">of calcium ion</tspan><tspan x="2125" dy="13.3">transmembrane</tspan><tspan x="2125" dy="13.3">transport</tspan></text></g>
<g id="rcitta" class="node"><rect class="b" x="2229" y="913" width="100" height="76"/><text x="2279" y="928.9"><tspan x="2279">regulation of</tspan><tspan x="2279" dy="13.3">calcium ion</tspan><tspan x="2279" dy="13.3">transmembrane</tspan><tspan x="2279" dy="13.3">transporter</tspan><tspan x="2279" dy="13.3">activity</tspan></text></g>
<g id="ncitt" class="node"><rect class="b" x="2943" y="920" width="118" height="63"/><text x="3002" y="936.05"><tspan x="3002">negative regulation</tspan><tspan x="3002" dy="13.3">of calcium ion</tspan><tspan x="3002" dy="13.3">transmembrane</tspan><tspan x="3002" dy="13.3">transport</tspan></text></g>
<g id="rsci" class="node"><rect class="b" x="3159" y="927" width="142" height="49"/><text x="3230" y="942.7"><tspan x="3230">release of sequestered</tspan><tspan x="3230" dy="13.3">calcium ion</tspan><tspan x="3230" dy="13.3">into cytosol</tspan></text></g>
<g id="srcit" class="node"><rect class="b" x="3347" y="927" width="112" height="49"/><text x="3403" y="942.7"><tspan x="3403">sarcoplasmic</tspan><tspan x="3403" dy="13.3">reticulum calcium</tspan><tspan x="3403" dy="13.3">ion transport</tspan></text></g>
<g id="pcitta" class="node"><rect class="b" x="2067" y="1025" width="116" height="76"/><text x="2125" y="1040.9"><tspan x="2125">positive regulation</tspan><tspan x="2125" dy="13.3">of calcium ion</tspan><tspan x="2125" dy="13.3">transmembrane</tspan><tspan x="2125" dy="13.3">transporter</tspan><tspan x="2125" dy="13.3">activity</tspan></text></g>
<g id="ncitta" class="node"><rect class="b" x="2427" y="1025" width="117" height="76"/><text x="2485.5" y="1040.9"><tspan x="2485.5">negative regulation</tspan><tspan x="2485.5" dy="13.3">of calcium ion</tspan><tspan x="2485.5" dy="13.3">transmembrane</tspan><tspan x="2485.5" dy="13.3">transporter</tspan><tspan x="2485.5" dy="13.3">activity</tspan></text></g>
<g id="rrsci" class="node"><rect class="b" x="2876" y="1032" width="143" height="63"/><text x="2947.5" y="1048.05"><tspan x="2947.5">regulation of</tspan><tspan x="2947.5" dy="13.3">release of sequestered</tspan><tspan x="2947.5" dy="13.3">calcium ion</tspan><tspan x="2947.5" dy="13.3">into cytosol</tspan></text></g>
<g id="rscier" class="node"><rect class="b" x="3413" y="1025" width="143" height="76"/><text x="3484.5" y="1040.9"><tspan x="3484.5">release of sequestered</tspan><tspan x="3484.5" dy="13.3">calcium ion</tspan><tspan x="3484.5" dy="13.3">into cytosol</tspan><tspan x="3484.5" dy="13.3">by endoplasmic</tspan><tspan x="3484.5" dy="13.3">reticulum</tspan></text></g>
<g id="prsci" class="node"><rect class="b" x="2172" y="1137" width="116" height="76"/><text x="2230" y="1152.9"><tspan x="2230">positive regulation</tspan><tspan x="2230" dy="13.3">of release of</tspan><tspan x="2230" dy="13.3">sequestered</tspan><tspan x="2230" dy="13.3">calcium ion</tspan><tspan x="2230" dy="13.3">into cytosol</tspan></text></g>
<g id="rryr" class="node"><rect class="b" x="2333" y="1143" width="123" height="64"/><text x="2394.5" y="1159.55"><tspan x="2394.5">regulation of</tspan><tspan x="2394.5" dy="13.3">ryanodine-sensitive</tspan><tspan x="2394.5" dy="13.3">calcium-release</tspan><tspan x="2394.5" dy="13.3">channel activity</tspan></text></g>
<g id="nrsci" class="node"><rect class="b" x="3006" y="1137" width="119" height="76"/><text x="3065.5" y="1152.9"><tspan x="3065.5">negative regulation</tspan><tspan x="3065.5" dy="13.3">of release of</tspan><tspan x="3065.5" dy="13.3">sequestered</tspan><tspan x="3065.5" dy="13.3">calcium ion</tspan><tspan x="3065.5" dy="13.3">into cytosol</tspan></text></g>
<g id="rscisr" class="node"><rect class="b" x="3413" y="1137" width="143" height="76"/><text x="3484.5" y="1152.9"><tspan x="3484.5">release of sequestered</tspan><tspan x="3484.5" dy="13.3">calcium ion</tspan><tspan x="3484.5" dy="13.3">into cytosol</tspan><tspan x="3484.5" dy="13.3">by sarcoplasmic</tspan><tspan x="3484.5" dy="13.3">reticulum</tspan></text></g>
<g id="pryr" class="node"><rect class="b" x="2109" y="1262" width="138" height="63"/><text x="2178" y="1278.05"><tspan x="2178">positive regulation</tspan><tspan x="2178" dy="13.3">of ryanodine-sensitive</tspan><tspan x="2178" dy="13.3">calcium-release</tspan><tspan x="2178" dy="13.3">channel activity</tspan></text><rect class="h" x="2109" y="1325" width="70" height="22"/><rect class="h" x="2179" y="1325" width="68" height="22"/><text x="2144" y="1340.5">Human</text><text x="2213" y="1340.5">GSTO1</text></g>
<g id="nryr" class="node"><rect class="b" x="2488" y="1262" width="138" height="63"/><text x="2557" y="1278.05"><tspan x="2557">negative regulation</tspan><tspan x="2557" dy="13.3">of ryanodine-sensitive</tspan><tspan x="2557" dy="13.3">calcium-release</tspan><tspan x="2557" dy="13.3">channel activity</tspan></text><rect class="h" x="2488" y="1325" width="70" height="22"/><rect class="h" x="2558" y="1325" width="68" height="22"/><text x="2523" y="1340.5">Human</text><text x="2592" y="1340.5">GSTO1</text></g>
<g id="rrscisr" class="node"><rect class="b" x="3147" y="1249" width="142" height="89"/><text x="3218" y="1264.75"><tspan x="3218">regulation of</tspan><tspan x="3218" dy="13.3">release of sequestered</tspan><tspan x="3218" dy="13.3">calcium ion</tspan><tspan x="3218" dy="13.3">into cytosol</tspan><tspan x="3218" dy="13.3">by sarcoplasmic</tspan><tspan x="3218" dy="13.3">reticulum</tspan></text><rect class="h" x="3147" y="1338" width="74" height="22"/><rect class="h" x="3221" y="1338" width="68" height="22"/><text x="3184" y="1353.5">Human</text><text x="3255" y="1353.5">GSTO1</text></g>
</g>
</g>
</svg>
